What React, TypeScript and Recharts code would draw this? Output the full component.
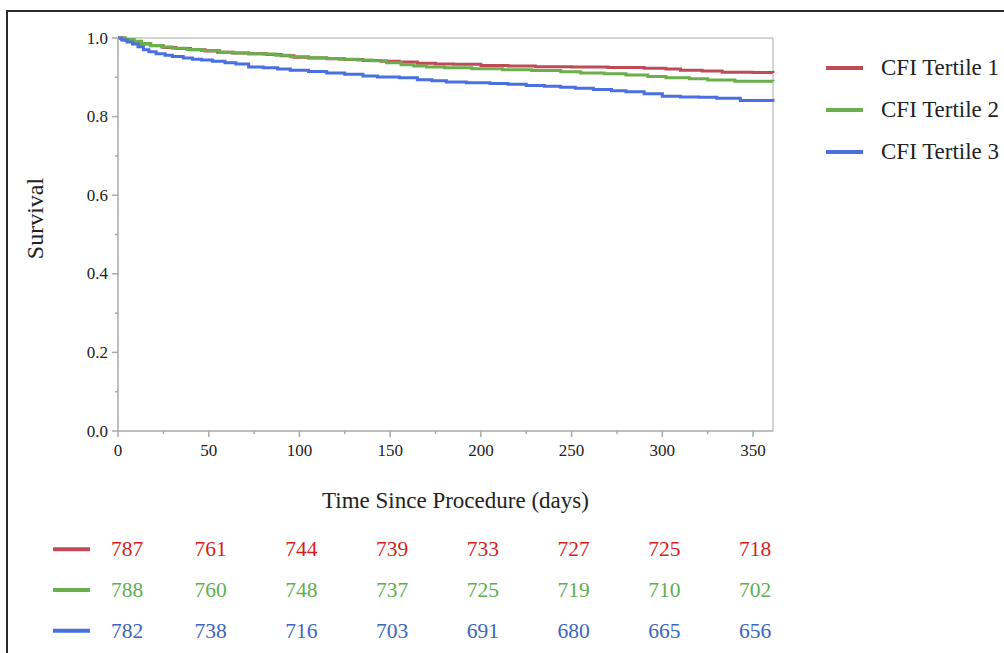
import React from 'react'
import {
  LineChart, Line, XAxis, YAxis, Legend, ReferenceLine,
  ComposedChart, Scatter,
} from 'recharts'

// survival curves (Kaplan-Meier steps)
const t1Days = [0, 4, 8, 12, 18, 25, 32, 40, 48, 55, 63, 72, 82, 90, 97, 105, 115, 125, 135, 145, 155, 165, 175, 185, 200, 215, 230, 250, 270, 290, 302, 310, 322, 333, 350, 361]
const t1Surv = [1.0, 0.994, 0.99, 0.985, 0.98, 0.976, 0.973, 0.97, 0.967, 0.964, 0.962, 0.96, 0.958, 0.955, 0.951, 0.949, 0.947, 0.945, 0.943, 0.941, 0.939, 0.936, 0.934, 0.933, 0.93, 0.929, 0.927, 0.926, 0.925, 0.923, 0.921, 0.918, 0.916, 0.913, 0.912, 0.911]

const t2Days = [0, 4, 9, 13, 18, 24, 30, 38, 46, 56, 64, 72, 80, 87, 95, 105, 115, 122, 132, 140, 148, 156, 163, 170, 180, 195, 212, 228, 244, 255, 268, 280, 292, 302, 315, 325, 340, 361]
const t2Surv = [1.0, 0.996, 0.992, 0.986, 0.981, 0.977, 0.974, 0.971, 0.968, 0.964, 0.962, 0.96, 0.959, 0.956, 0.952, 0.95, 0.948, 0.946, 0.944, 0.942, 0.937, 0.932, 0.929, 0.926, 0.924, 0.922, 0.919, 0.917, 0.914, 0.911, 0.909, 0.906, 0.902, 0.899, 0.896, 0.893, 0.89, 0.889]

const t3Days = [0, 2, 5, 8, 11, 14, 17, 21, 26, 30, 36, 41, 46, 52, 59, 65, 72, 80, 88, 95, 105, 115, 125, 135, 143, 155, 165, 173, 181, 192, 205, 215, 225, 235, 244, 252, 262, 272, 280, 290, 300, 310, 320, 330, 343, 361]
const t3Surv = [1.0, 0.995, 0.99, 0.985, 0.978, 0.97, 0.965, 0.96, 0.956, 0.953, 0.949, 0.946, 0.944, 0.941, 0.937, 0.934, 0.926, 0.924, 0.921, 0.918, 0.915, 0.911, 0.908, 0.903, 0.901, 0.899, 0.894, 0.891, 0.888, 0.886, 0.884, 0.882, 0.879, 0.877, 0.875, 0.872, 0.869, 0.866, 0.863, 0.858, 0.852, 0.85, 0.849, 0.847, 0.841, 0.838]

const seriesNames = ['CFI Tertile 1', 'CFI Tertile 2', 'CFI Tertile 3']

// numbers at risk
const riskDays = [0, 50, 100, 150, 200, 250, 300, 350]
const riskT1 = [787, 761, 744, 739, 733, 727, 725, 718]
const riskT2 = [788, 760, 748, 737, 725, 719, 710, 702]
const riskT3 = [782, 738, 716, 703, 691, 680, 665, 656]

const xTicks = [0, 25, 50, 75, 100, 125, 150, 175, 200, 225, 250, 275, 300, 325, 350]
const yTicks = [0, 0.1, 0.2, 0.3, 0.4, 0.5, 0.6, 0.7, 0.8, 0.9, 1.0]

const lineColors = ['#bf4b57', '#6aaf4b', '#4a6fe0']
const textColors = ['#d61e1e', '#5fae4f', '#3b66c0']
const FONT = '"Liberation Serif", "Times New Roman", serif'
const AXIS = '#a9a9a9'

const zip = (days: number[], surv: number[]) => days.map((d, i) => ({ day: d, s: surv[i] }))
const curves = [zip(t1Days, t1Surv), zip(t2Days, t2Surv), zip(t3Days, t3Surv)]
const riskRows = [riskT1, riskT2, riskT3].map((row, r) =>
  riskDays.map((d, i) => ({ day: d, row: r, n: row[i] })))

const YTick = (props: any) => {
  const { x, y, payload } = props
  const major = Math.round(payload.value * 10) % 2 === 0
  return (
    <g>
      <line x1={x - (major ? 6 : 3)} x2={x} y1={y} y2={y} stroke={AXIS} strokeWidth={1.5} />
      {major && (
        <text x={x - 10} y={y} textAnchor="end" dominantBaseline="central"
          fontFamily={FONT} fontSize={17} fill="#222">{payload.value.toFixed(1)}</text>
      )}
    </g>
  )
}

const XTick = (props: any) => {
  const { x, y, payload } = props
  const major = payload.value % 50 === 0
  return (
    <g>
      <line x1={x} x2={x} y1={y} y2={y + (major ? 6 : 3)} stroke={AXIS} strokeWidth={1.5} />
      {major && (
        <text x={x} y={y + 19} textAnchor="middle" dominantBaseline="central"
          fontFamily={FONT} fontSize={17} fill="#222">{payload.value}</text>
      )}
    </g>
  )
}

const LegendBox = (props: any) => (
  <div style={{ paddingLeft: 53, fontFamily: FONT, fontSize: 23, color: '#222' }}>
    {(props.payload || []).map((p: any) => (
      <div key={p.value} style={{ height: 42, display: 'flex', alignItems: 'center', whiteSpace: 'nowrap' }}>
        <span style={{ display: 'inline-block', width: 37, height: 4, background: p.color, marginRight: 18 }} />
        <span>{p.value}</span>
      </div>
    ))}
  </div>
)

const RiskTick = (props: any) => {
  const { x, y, payload } = props
  return <line x1={x - 65} x2={x - 28} y1={y} y2={y} stroke={lineColors[payload.value]} strokeWidth={4} />
}

const riskShape = (color: string) => (props: any) => {
  const { cx, cy, payload } = props
  return (
    <text x={cx + (payload.day === 0 ? 9 : 2)} y={cy} textAnchor="middle" dominantBaseline="central"
      fontFamily={FONT} fontSize={21.5} fill={color}>{payload.n}</text>
  )
}

export default function App() {
  return (
    <div style={{ position: 'absolute', left: 0, top: 0, width: 1004, height: 653, overflow: 'hidden', background: '#fff' }}>
      <div style={{ position: 'absolute', left: 6, top: 10, width: 1100, height: 700, border: '2px solid #2a2a2a' }} />

      <div style={{ position: 'absolute', left: 0, top: 0 }}>
        <LineChart width={1004} height={520} margin={{ top: 38, right: 0, left: 0, bottom: 0 }}>
          <XAxis dataKey="day" type="number" domain={[0, 361]} ticks={xTicks} interval={0}
            tick={<XTick />} tickSize={0} tickMargin={0} height={89}
            axisLine={{ stroke: AXIS, strokeWidth: 1.5 }} tickLine={false}
            label={{
              content: (p: any) => (
                <text x={p.viewBox.x + p.viewBox.width / 2 + 10} y={p.viewBox.y + 77} textAnchor="middle"
                  fontFamily={FONT} fontSize={23} fill="#222">Time Since Procedure (days)</text>
              ),
            }} />
          <YAxis type="number" domain={[0, 1]} ticks={yTicks} interval={0} width={118}
            tick={<YTick />} tickSize={0} tickMargin={0}
            axisLine={{ stroke: AXIS, strokeWidth: 1.5 }} tickLine={false}
            label={{
              content: (p: any) => {
                const cx = p.viewBox.x + 35
                const cy = p.viewBox.y + p.viewBox.height / 2 - 16
                return (
                  <text x={cx} y={cy} transform={`rotate(-90 ${cx} ${cy})`} textAnchor="middle"
                    dominantBaseline="central" fontFamily={FONT} fontSize={24} fill="#222">Survival</text>
                )
              },
            }} />
          <ReferenceLine y={1} stroke="#c4c4c4" strokeWidth={1.5} />
          <ReferenceLine x={361} stroke="#c4c4c4" strokeWidth={1.5} />
          {curves.map((c, i) => (
            <Line key={seriesNames[i]} data={c} dataKey="s" name={seriesNames[i]} type="stepAfter"
              stroke={lineColors[i]} strokeWidth={3} dot={false} isAnimationActive={false} />
          ))}
          <Legend layout="vertical" align="right" verticalAlign="top" content={<LegendBox />}
            wrapperStyle={{ width: 231, top: 47 }} />
        </LineChart>
      </div>

      <div style={{ position: 'absolute', left: 0, top: 529 }}>
        <ComposedChart width={1004} height={122} margin={{ top: 0, right: 231, left: 0, bottom: 0 }}>
          <XAxis dataKey="day" type="number" domain={[0, 361]} hide />
          <YAxis dataKey="row" type="number" domain={[-0.5, 2.5]} reversed ticks={[0, 1, 2]} interval={0}
            width={118} tick={<RiskTick />} tickSize={0} tickMargin={0} axisLine={false} tickLine={false} />
          {riskRows.map((rows, i) => (
            <Scatter key={i} data={rows} shape={riskShape(textColors[i])} isAnimationActive={false} />
          ))}
        </ComposedChart>
      </div>
    </div>
  )
}
